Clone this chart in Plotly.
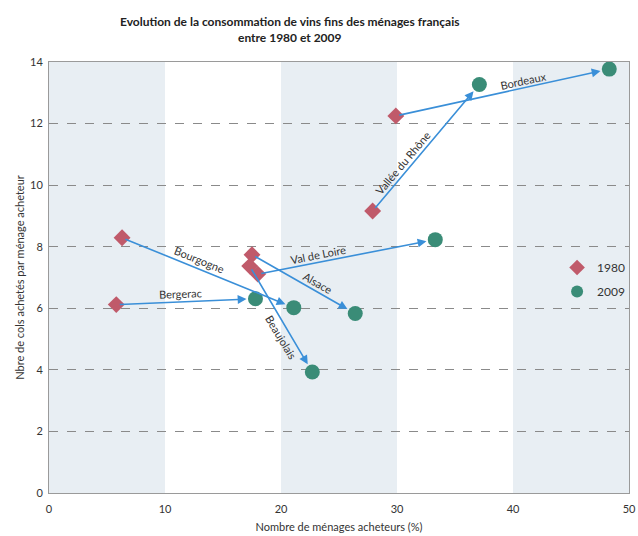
import plotly.graph_objects as go

regions = ["Bordeaux", "Vallée du Rhône", "Val de Loire", "Alsace", "Beaujolais", "Bourgogne", "Bergerac"]
x_1980 = [29.9, 27.9, 18.0, 17.5, 17.3, 6.3, 5.8]
y_1980 = [12.25, 9.16, 7.11, 7.74, 7.37, 8.29, 6.12]
x_2009 = [48.3, 37.1, 33.3, 26.4, 22.7, 21.1, 17.8]
y_2009 = [13.77, 13.27, 8.23, 5.83, 3.93, 6.02, 6.31]
x_ticks = [0, 10, 20, 30, 40, 50]
y_ticks = [0, 2, 4, 6, 8, 10, 12, 14]

FONT = "Lato"
TXT = "#333333"
ARROW = "#3a8fd8"
RED = "#c05a6a"
GREEN = "#3a8c77"

# label placement (fraction along arrow, pixel shifts, angle)
label_style = {
    "Bordeaux": (0.6, 0, 7, -12),
    "Vallée du Rhône": (0.38, -10, 0, -50),
    "Val de Loire": (0.34, 0, 8, -11),
    "Alsace": (0.63, 0, 9, 30),
    "Beaujolais": (0.67, -10, 0, 59),
    "Bourgogne": (0.45, 0, 10, 22),
    "Bergerac": (0.46, 0, 8, -2),
}

fig = go.Figure()

for x0 in [0, 20, 40]:
    fig.add_shape(type="rect", xref="x", yref="y", x0=x0, x1=x0 + 10, y0=0, y1=14,
                  fillcolor="#e8eef3", line_width=0, layer="below")

annotations = []
for r, xa, ya, xb, yb in zip(regions, x_1980, y_1980, x_2009, y_2009):
    annotations.append(dict(x=xb, y=yb, ax=xa, ay=ya, xref="x", yref="y", axref="x", ayref="y",
                            text="", showarrow=True, arrowhead=2, arrowsize=1.1, arrowwidth=1.6,
                            arrowcolor=ARROW, standoff=9, startstandoff=2))
    t, xs, ys, ang = label_style[r]
    annotations.append(dict(x=xa + t * (xb - xa), y=ya + t * (yb - ya), xref="x", yref="y",
                            text=r, showarrow=False, textangle=ang, xshift=xs, yshift=ys,
                            font=dict(family=FONT, size=11, color=TXT)))

annotations.append(dict(x=0.414, y=1.0, xref="paper", yref="paper", yshift=15, yanchor="bottom",
                        text="<b>Evolution de la consommation de vins fins des ménages français<br>entre 1980 et 2009</b>",
                        showarrow=False, font=dict(family=FONT, size=12, color="#222222")))

fig.add_trace(go.Scatter(x=x_1980, y=y_1980, mode="markers", name="1980", legendgroup="a",
                         marker=dict(symbol="diamond", size=13, color=RED), cliponaxis=False))
fig.add_trace(go.Scatter(x=x_2009, y=y_2009, mode="markers", name="2009", legendgroup="b",
                         marker=dict(symbol="circle", size=15, color=GREEN), cliponaxis=False))

fig.update_layout(
    width=638, height=536,
    margin=dict(l=49, r=9, t=62, b=43, autoexpand=False),
    paper_bgcolor="white", plot_bgcolor="white",
    font=dict(family=FONT, size=11, color=TXT),
    annotations=annotations,
    showlegend=True,
    legend=dict(x=0.876, y=0.557, xanchor="left", yanchor="top", bgcolor="rgba(0,0,0,0)",
                font=dict(family=FONT, size=12, color=TXT), tracegroupgap=5, itemsizing="constant"),
    xaxis=dict(range=[0, 50], tickvals=x_ticks, showgrid=False, zeroline=False, automargin=False,
               showline=True, mirror=True, linecolor="#9a9a9a", linewidth=1,
               ticks="", ticklabelstandoff=6, tickfont=dict(size=11, color=TXT),
               title=dict(text="Nombre de ménages acheteurs (%)", font=dict(size=11, color=TXT), standoff=9)),
    yaxis=dict(range=[0, 14], tickvals=y_ticks, showgrid=True, gridcolor="#8a8a8a", griddash="dash",
               gridwidth=1, zeroline=False, showline=True, mirror=True, linecolor="#9a9a9a", linewidth=1,
               automargin=False, ticks="", ticklabelstandoff=3, tickfont=dict(size=11, color=TXT),
               title=dict(text="Nbre de cols achetés par ménage acheteur", font=dict(size=11, color=TXT), standoff=3)),
)

fig.write_html("out.html", config={"displayModeBar": False},
               post_script="document.body.style.margin='0';")
